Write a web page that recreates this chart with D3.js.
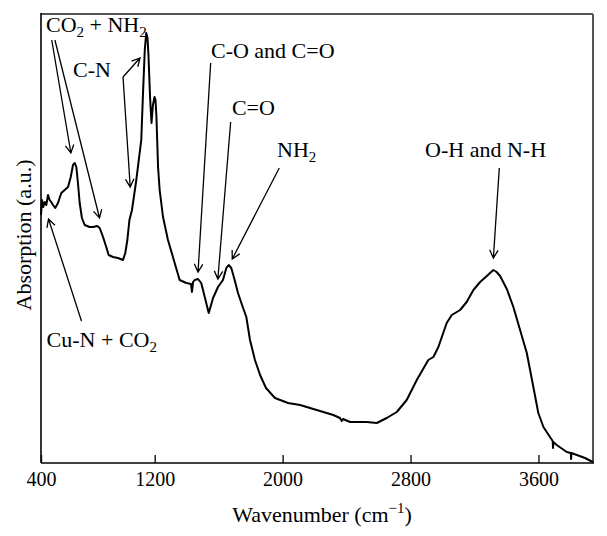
<!DOCTYPE html>
<html><head><meta charset="utf-8">
<script src="https://cdn.jsdelivr.net/npm/d3@7"></script>
<style>body{margin:0;background:#fff}</style>
</head><body><svg id="c" width="607" height="536"></svg>
<script>
// FTIR spectrum: wavenumber (cm^-1) and absorption (a.u.)
const wavenumber = [489,495,503,512,522,533,543,553,564,578,595,616,637,658,675,689,700,710,720,731,745,762,793,814,841,856,877,897,912,939,970,1002,1016,1029,1042,1058,1085,1116,1127,1138,1147,1155,1161,1171,1180,1189,1199,1205,1211,1221,1231,1252,1283,1325,1356,1398,1427,1433,1440,1450,1471,1491,1513,1538,1565,1596,1627,1648,1663,1679,1700,1721,1742,1773,1796,1827,1859,1896,1952,2034,2109,2213,2317,2359,2370,2378,2422,2526,2589,2651,2714,2776,2839,2911,2943,2974,3026,3058,3110,3151,3193,3235,3277,3297,3318,3338,3360,3402,3443,3485,3527,3568,3599,3631,3672,3689,3691,3693,3714,3777,3802,3804,3806,3840,3891,3940];
const absorbance = [248,263,256,261,258,268,263,261,258,255,260,270,273,276,286,298,300,296,280,260,245,238,236,236,237,235,226,216,208,206,205,203,210,223,243,253,283,323,370,413,430,425,408,366,340,358,366,363,346,296,273,246,223,200,183,180,179,171,181,183,184,180,166,150,165,176,183,195,198,195,183,170,160,146,123,103,88,75,65,60,58,53,48,45,42,44,41,41,40,45,51,63,83,103,106,116,140,148,153,161,173,181,187,190,193,191,187,174,156,133,110,76,50,36,26,22,15,21,18,11,10,4,10,8,5,1];

const xDomain = [489, 3941];
const yDomain = [0, 449];
const xTickValues = [489, 1200, 2000, 2800, 3600];
const xTickLabels = ["400", "1200", "2000", "2800", "3600"];
const xTitle = "Wavenumber (cm";
const xTitleSup = "\u22121";
const yTitle = "Absorption (a.u.)";

// Annotation labels: segments [text, isSubscript]
const labelTexts = [
  [["CO",0],["2",1],[" + NH",0],["2",1]],
  [["C-N",0]],
  [["C-O and C=O",0]],
  [["C=O",0]],
  [["NH",0],["2",1]],
  [["Cu-N + CO",0],["2",1]],
  [["O-H and N-H",0]]
];
const labelWn  = [520, 689, 1552, 1683, 1965, 524, 2891];
const labelAbs = [431, 386, 405, 348, 306, 116, 306];

// Arrows (from -> to), in data coordinates
const arrowFromWn  = [556, 576, 1002, 1002, 1550, 1675, 1979, 742, 3355];
const arrowFromAbs = [423, 423, 386, 386, 400, 341, 295, 142, 295];
const arrowToWn    = [676, 855, 1108, 1047, 1471, 1595, 1685, 536, 3318];
const arrowToAbs   = [310, 245, 405, 276, 191, 184, 204, 244, 205];

const L = 41, R = 593, T = 14, B = 463;
const FONT = "'Liberation Serif','Times New Roman',serif";
const svg = d3.select("#c");
const x = d3.scaleLinear().domain(xDomain).range([L, R]);
const y = d3.scaleLinear().domain(yDomain).range([B, T]);

// frame
svg.append("line").attr("x1",L).attr("x2",R).attr("y1",T).attr("y2",T).attr("stroke","#555").attr("stroke-width",2);
svg.append("line").attr("x1",R).attr("x2",R).attr("y1",T).attr("y2",B).attr("stroke","#555").attr("stroke-width",2);

// x axis
const ax = svg.append("g").attr("transform",`translate(0,${B})`)
  .call(d3.axisBottom(x).tickValues(xTickValues).tickFormat((d,i)=>xTickLabels[i]).tickSize(-8).tickPadding(9));
ax.select(".domain").remove();
ax.selectAll(".tick line").attr("stroke","#000").attr("stroke-width",1.3);
ax.selectAll(".tick text").attr("font-family",FONT).attr("font-size",20).attr("fill","#000");

svg.append("line").attr("x1",L).attr("x2",L).attr("y1",T-1).attr("y2",B).attr("stroke","#000").attr("stroke-width",1.6);
svg.append("line").attr("x1",L).attr("x2",R+1).attr("y1",B).attr("y2",B).attr("stroke","#000").attr("stroke-width",1.6);

// spectrum
const pts = wavenumber.map((w,i)=>[w, absorbance[i]]);
svg.append("path").datum(pts)
  .attr("d", d3.line().x(d=>x(d[0])).y(d=>y(d[1])))
  .attr("fill","none").attr("stroke","#000").attr("stroke-width",2).attr("stroke-linejoin","round");

// arrows
const AL = 9, TH = 28*Math.PI/180;
arrowFromWn.forEach((_,i)=>{
  const x1 = x(arrowFromWn[i]), y1 = y(arrowFromAbs[i]);
  const x2 = x(arrowToWn[i]), y2 = y(arrowToAbs[i]);
  const a = Math.atan2(y2-y1, x2-x1);
  const p = d3.path();
  p.moveTo(x1,y1); p.lineTo(x2,y2);
  p.moveTo(x2 - AL*Math.cos(a-TH), y2 - AL*Math.sin(a-TH)); p.lineTo(x2,y2);
  p.lineTo(x2 - AL*Math.cos(a+TH), y2 - AL*Math.sin(a+TH));
  svg.append("path").attr("d",p.toString()).attr("fill","none").attr("stroke","#000").attr("stroke-width",1.3);
});

// labels
labelTexts.forEach((segs,i)=>{
  const t = svg.append("text").attr("x",x(labelWn[i])).attr("y",y(labelAbs[i]))
    .attr("font-family",FONT).attr("font-size",22).attr("fill","#000");
  let shifted = false;
  segs.forEach(([s,sub])=>{
    const ts = t.append("tspan").text(s);
    if (sub) { ts.attr("font-size",15).attr("dy",5); shifted = true; }
    else if (shifted) { ts.attr("dy",-5); shifted = false; }
  });
});

// axis titles
const xt = svg.append("text").attr("x",322).attr("y",522).attr("text-anchor","middle")
  .attr("font-family",FONT).attr("font-size",22).attr("fill","#000");
xt.append("tspan").text(xTitle);
xt.append("tspan").text(xTitleSup).attr("font-size",15).attr("dy",-9);
xt.append("tspan").text(")").attr("dy",9);

svg.append("text").attr("transform","translate(31,235) rotate(-90)").attr("text-anchor","middle")
  .attr("font-family",FONT).attr("font-size",22).attr("fill","#000").text(yTitle);
</script>
</body></html>
